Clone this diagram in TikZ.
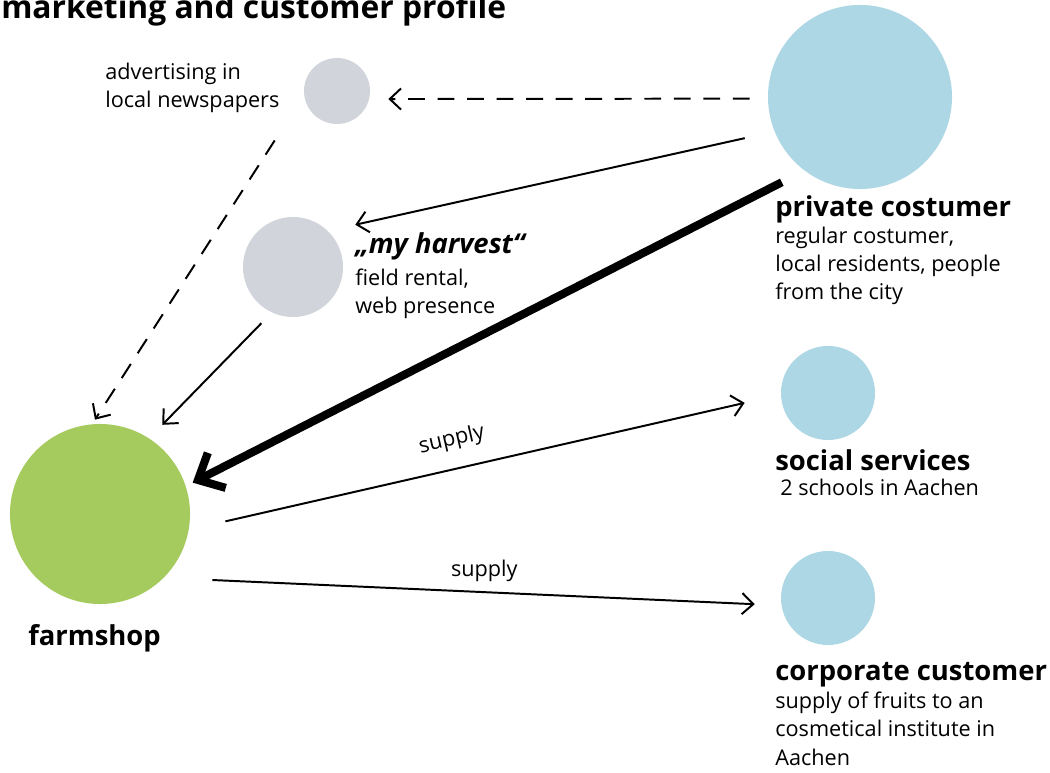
\documentclass[tikz,border=0pt]{standalone}
\usepackage{fontspec}
\setmainfont{Open Sans}
\usepackage{tikz}
\usetikzlibrary{arrows.meta, positioning}

\definecolor{bubblegrey}{RGB}{209,212,218}
\definecolor{bubbleblue}{RGB}{173,215,228}
\definecolor{bubblegreen}{RGB}{165,203,94}

\begin{document}
\begin{tikzpicture}[x=0.025cm, y=-0.025cm,
    bubble/.style={circle, inner sep=0pt, minimum size=#1},
    txt/.style={anchor=base west, inner sep=0pt, align=left, font=\fontsize{15.4}{20.2}\selectfont},
    head/.style={anchor=base west, inner sep=0pt, font=\fontsize{19.5}{22}\selectfont\bfseries},
    tag/.style={inner sep=2pt, font=\fontsize{15.4}{18}\selectfont},
    flow/.style={line width=1.4pt, -{Straight Barb[length=8pt, width=15pt]}},
    hint/.style={flow, dash pattern=on 12pt off 9pt},
    main/.style={line width=5.8pt, -{Straight Barb[length=15pt, width=28pt]}}]

\useasboundingbox (0,0) rectangle (1050,773);

% title, cut at the top
\node[head, font=\fontsize{22.6}{24}\selectfont\bfseries] (title) at (1,19) {marketing and customer profile};

% bubbles
\node[bubble=1.65cm, fill=bubblegrey] (adv) at (337,91) {};
\node[bubble=4.6cm, fill=bubbleblue] (pc) at (860,97) {};
\node[bubble=2.5cm, fill=bubblegrey] (harvest) at (293,267) {};
\node[bubble=4.5cm, fill=bubblegreen] (farm) at (100,514) {};
\node[bubble=2.35cm, fill=bubbleblue] (social) at (828,393) {};
\node[bubble=2.35cm, fill=bubbleblue] (corp) at (828,598) {};

% texts (multi-line ones sit on their last line)
\node[txt] (advtext) at (105,108) {advertising in\\local newspapers};
\node[head, font=\fontsize{19.5}{22}\selectfont\bfseries\itshape] (harvesthead) at (355,254) {„my harvest“};
\node[txt] (harvesttext) at (355,314) {field rental,\\web presence};
\node[head] (pchead) at (775,217) {private costumer};
\node[txt] (pctext) at (775,300) {regular costumer,\\local residents, people\\from the city};
\node[head] (socialhead) at (775,470) {social services};
\node[txt] (socialtext) at (780,495) {2 schools in Aachen};
\node[head] (corphead) at (775,680) {corporate customer};
\node[txt] (corptext) at (775,765) {supply of fruits to an\\cosmetical institute in\\Aachen};
\node[head] (farmhead) at (28,645) {farmshop};

% arrows
\draw[hint, shorten <=0.45cm, shorten >=0.475cm] (pc.181) -- (adv.-14);
\draw[hint, shorten <=1.35cm, shorten >=0.13cm] (adv.187) -- (farm.95);
\draw[flow, shorten <=0.76cm, shorten >=0.7cm] (pc.202) -- (harvest.46);
\draw[main, shorten <=0.635cm, shorten >=0.19cm] (pc.233) -- (farm.18);
\draw[flow, shorten <=0.37cm, shorten >=0.47cm] (harvest.245) -- (farm.57);
\draw[flow, shorten <=0.935cm, shorten >=0.925cm] (farm.-10) -- node[tag, pos=0.455, sloped, above=10pt] (supplyA) {supply} (social.182);
\draw[flow, shorten <=1.215cm, shorten >=0.665cm] (farm.-45) -- node[tag, pos=0.519, above=5pt] (supplyB) {supply} (corp.189);

\end{tikzpicture}
\end{document}
